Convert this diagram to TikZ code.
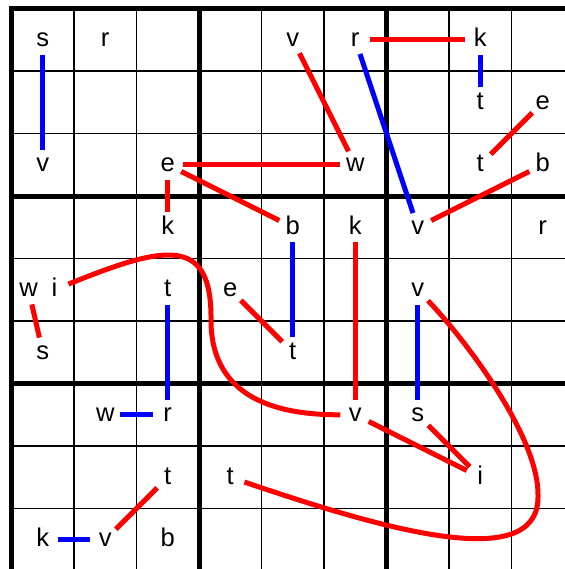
\documentclass[tikz,border=0pt]{standalone}
\usepackage{fontspec}
\setmainfont{Liberation Sans}
\AtBeginDocument{\fontsize{25.6bp}{30bp}\selectfont}
\begin{document}
\begin{tikzpicture}[x=1bp,y=-1bp,
  lbl/.style={anchor=mid,inner sep=0pt,font=\fontsize{25.6bp}{30bp}\selectfont},
  thin grid/.style={line width=1.8bp,black},
  thick grid/.style={line width=5bp,black},
  conn/.style={line width=5bp,shorten <=15bp,shorten >=15bp},
  rc/.style={conn,red},
  bc/.style={conn,blue}]
\fontsize{25.6bp}{30bp}\selectfont
\useasboundingbox (0,0) rectangle (565,569);
\clip (0,0) rectangle (565,569);
% grid
\foreach \k in {0,...,9}{
  \draw[thin grid] (11.5+62.5*\k,8.5) -- (11.5+62.5*\k,571);
  \draw[thin grid] (11.5,8.5+62.5*\k) -- (574,8.5+62.5*\k);
}
\foreach \k in {0,3,6,9}{
  \draw[thick grid] (11.5+62.5*\k,6) -- (11.5+62.5*\k,573.5);
  \draw[thick grid] (9,8.5+62.5*\k) -- (576.5,8.5+62.5*\k);
}
% letters
\node[lbl] (s00) at (42.75,39.75) {s};
\node[lbl] (r01) at (105.25,39.75) {r};
\node[lbl] (v04) at (292.75,39.75) {v};
\node[lbl] (r05) at (355.25,39.75) {r};
\node[lbl] (k07) at (480.25,39.75) {k};
\node[lbl] (t17) at (480.25,102.25) {t};
\node[lbl] (e18) at (542.75,102.25) {e};
\node[lbl] (v20) at (42.75,164.75) {v};
\node[lbl] (e22) at (167.75,164.75) {e};
\node[lbl] (w25) at (355.25,164.75) {w};
\node[lbl] (t27) at (480.25,164.75) {t};
\node[lbl] (b28) at (542.75,164.75) {b};
\node[lbl] (k32) at (167.75,227.25) {k};
\node[lbl] (b34) at (292.75,227.25) {b};
\node[lbl] (k35) at (355.25,227.25) {k};
\node[lbl] (v36) at (417.75,227.25) {v};
\node[lbl] (r38) at (542.75,227.25) {r};
\node[lbl] (w40) at (28.5,289.75) {w};
\node[lbl] (i40) at (54.5,289.75) {i};
\node[lbl] (t42) at (167.75,289.75) {t};
\node[lbl] (e43) at (230.25,289.75) {e};
\node[lbl] (v46) at (417.75,289.75) {v};
\node[lbl] (s50) at (42.75,352.25) {s};
\node[lbl] (t54) at (292.75,352.25) {t};
\node[lbl] (w61) at (105.25,414.75) {w};
\node[lbl] (r62) at (167.75,414.75) {r};
\node[lbl] (v65) at (355.25,414.75) {v};
\node[lbl] (s66) at (417.75,414.75) {s};
\node[lbl] (t72) at (167.75,477.25) {t};
\node[lbl] (t73) at (230.25,477.25) {t};
\node[lbl] (i77) at (480.25,477.25) {i};
\node[lbl] (k80) at (42.75,539.75) {k};
\node[lbl] (v81) at (105.25,539.75) {v};
\node[lbl] (b82) at (167.75,539.75) {b};
% blue connectors
\draw[bc] (s00.mid) -- (v20.mid);
\draw[bc] (k07.mid) -- (t17.mid);
\draw[bc] (r05.mid) -- (v36.mid);
\draw[bc] (b34.mid) -- (t54.mid);
\draw[bc] (t42.mid) -- (r62.mid);
\draw[bc] (v46.mid) -- (s66.mid);
\draw[bc] (w61.mid) -- (r62.mid);
\draw[bc] (k80.mid) -- (v81.mid);
% red connectors
\draw[rc] (r05.mid) -- (k07.mid);
\draw[rc] (v04.mid) -- (w25.mid);
\draw[rc] (t27.mid) -- (e18.mid);
\draw[rc] (e22.mid) -- (w25.mid);
\draw[rc] (e22.mid) -- (k32.mid);
\draw[rc] (e22.mid) -- (b34.mid);
\draw[rc] (v36.mid) -- (b28.mid);
\draw[rc] (k35.mid) -- (v65.mid);
\draw[rc] (w40.mid) -- (s50.mid);
\draw[rc] (e43.mid) -- (t54.mid);
\draw[rc] (v65.mid) -- (i77.mid);
\draw[rc] (s66.mid) -- (i77.mid);
\draw[rc] (t72.mid) -- (v81.mid);
\draw[rc] (i40.mid) .. controls (165,245) and (212,235) .. (211,320)
  .. controls (211,400) and (280,415) .. (v65.mid);
\draw[rc] (v46.mid) .. controls (470,345) and (540,440) .. (538,497)
  .. controls (538,575) and (380,528) .. (t73.mid);
\end{tikzpicture}
\end{document}
